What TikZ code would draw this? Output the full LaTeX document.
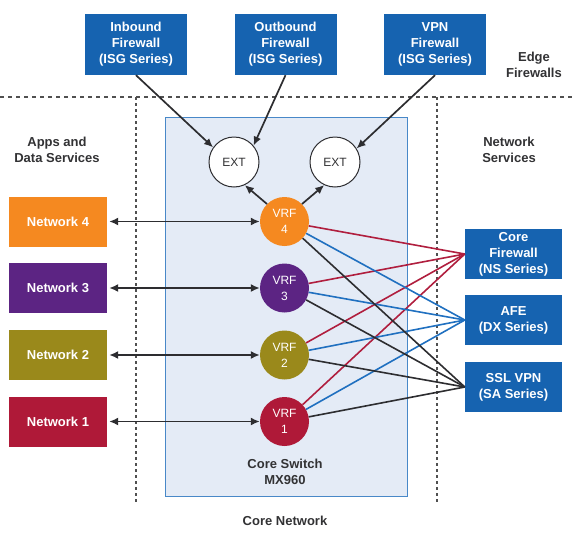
\documentclass[tikz,border=0pt]{standalone}
\usepackage{fontspec}
\setmainfont{Liberation Sans}
\usetikzlibrary{arrows.meta}

\definecolor{fwblue}{RGB}{22,99,176}
\definecolor{net4}{RGB}{245,137,32}
\definecolor{net3}{RGB}{92,36,131}
\definecolor{net2}{RGB}{154,137,27}
\definecolor{net1}{RGB}{175,25,56}
\definecolor{corefill}{RGB}{228,235,246}
\definecolor{coreline}{RGB}{72,136,200}
\definecolor{linered}{RGB}{176,30,62}
\definecolor{lineblue}{RGB}{32,112,192}
\definecolor{darkline}{RGB}{45,45,48}
\definecolor{labelgray}{RGB}{50,50,52}
\definecolor{dashgray}{RGB}{80,80,80}

\begin{document}
\begin{tikzpicture}[x=1pt,y=-1pt,
	fwbox/.style={fill=fwblue, text=white, align=center, inner sep=0pt,
		font=\bfseries\fontsize{13}{16}\selectfont},
	netbox/.style={text=white, inner sep=0pt, minimum width=98pt, minimum height=50pt,
		font=\bfseries\fontsize{13}{16}\selectfont},
	vrf/.style={circle, text=white, align=center, inner sep=0pt, minimum size=49pt,
		font=\fontsize{12}{16}\selectfont},
	ext/.style={circle, draw=darkline, line width=1pt, fill=white, text=labelgray,
		inner sep=0pt, minimum size=50pt, font=\fontsize{12}{14}\selectfont},
	zone/.style={text=labelgray, align=center, font=\bfseries\fontsize{13}{16}\selectfont},
	link/.style={darkline, line width=1.7pt, -{Latex[length=9pt,width=8pt]}},
	vrfline/.style={line width=1.6pt}]

% parameters %{{{2

	\def\vrfx{284.5}
	\def\netx{58}
	\def\svcx{513.5}

	\useasboundingbox (0,0) rectangle (573,533);

% zones %{{{2

	\draw[dashgray, line width=1.1pt, dash pattern=on 4pt off 4pt] (0,97) -- (573,97);
	\draw[dashgray, line width=1.1pt, dash pattern=on 3pt off 3pt] (136,97) -- (136,503);
	\draw[dashgray, line width=1.1pt, dash pattern=on 3pt off 3pt] (437,97) -- (437,503);

	\draw[coreline, fill=corefill, line width=1pt] (165,117) rectangle (407,496);

% edge firewalls %{{{2

	\node[fwbox, minimum width=102pt, minimum height=61pt] (inb) at (136,44.5)
		{Inbound\\Firewall\\(ISG Series)};
	\node[fwbox, minimum width=102pt, minimum height=61pt] (outb) at (285.5,44.5)
		{Outbound\\Firewall\\(ISG Series)};
	\node[fwbox, minimum width=102pt, minimum height=61pt] (vpnb) at (435,44.5)
		{VPN\\Firewall\\(ISG Series)};

	\node[ext] (ext1) at (234,162) {EXT};
	\node[ext] (ext2) at (335,162) {EXT};

% networks and vrfs %{{{2

	\foreach \i/\y/\col in {4/221.5/net4, 3/288/net3, 2/355/net2, 1/421.5/net1} {
		\node[netbox, fill=\col] (net\i) at (\netx,\y) {Network \i};
		\node[vrf, fill=\col] (vrf\i) at (\vrfx,\y) {VRF\\\i};
	}

% network services %{{{2

	\node[fwbox, minimum width=97pt, minimum height=50pt] (cfw) at (\svcx,254)
		{Core\\Firewall\\(NS Series)};
	\node[fwbox, minimum width=97pt, minimum height=50pt] (afe) at (\svcx,320)
		{AFE\\(DX Series)};
	\node[fwbox, minimum width=97pt, minimum height=50pt] (ssl) at (\svcx,387)
		{SSL VPN\\(SA Series)};

% labels %{{{2

	\node[zone] (edge) at (534,65) {Edge\\Firewalls};
	\node[zone] (apps) at (57,150) {Apps and\\Data Services};
	\node[zone] (nsvc) at (509,150) {Network\\Services};
	\node[zone] (cswitch) at (285,472) {Core Switch\\MX960};
	\node[zone] (cnet) at (285,521) {Core Network};

% arrows %{{{2

	\draw[link] (inb.south) -- (ext1.145);
	\draw[link] (outb.south) -- (ext1.40);
	\draw[link] (vpnb.south) -- (ext2.32);

	\draw[link] (vrf4.135) -- (ext1.-65);
	\draw[link] (vrf4.45) -- (ext2.-115);

	\foreach \i in {1,...,4} {
		\draw[link, {Latex[length=9pt,width=8pt]}-{Latex[length=9pt,width=8pt]}, shorten <=2pt]
			(net\i) -- (vrf\i);
	}

% vrf to services %{{{2

	\foreach \i in {1,...,4} {
		\draw[vrfline, darkline] (vrf\i) -- (ssl.west);
		\draw[vrfline, lineblue] (vrf\i) -- (afe.west);
		\draw[vrfline, linered] (vrf\i) -- (cfw.west);
	}

% closing %{{{2

\end{tikzpicture}
\end{document}
